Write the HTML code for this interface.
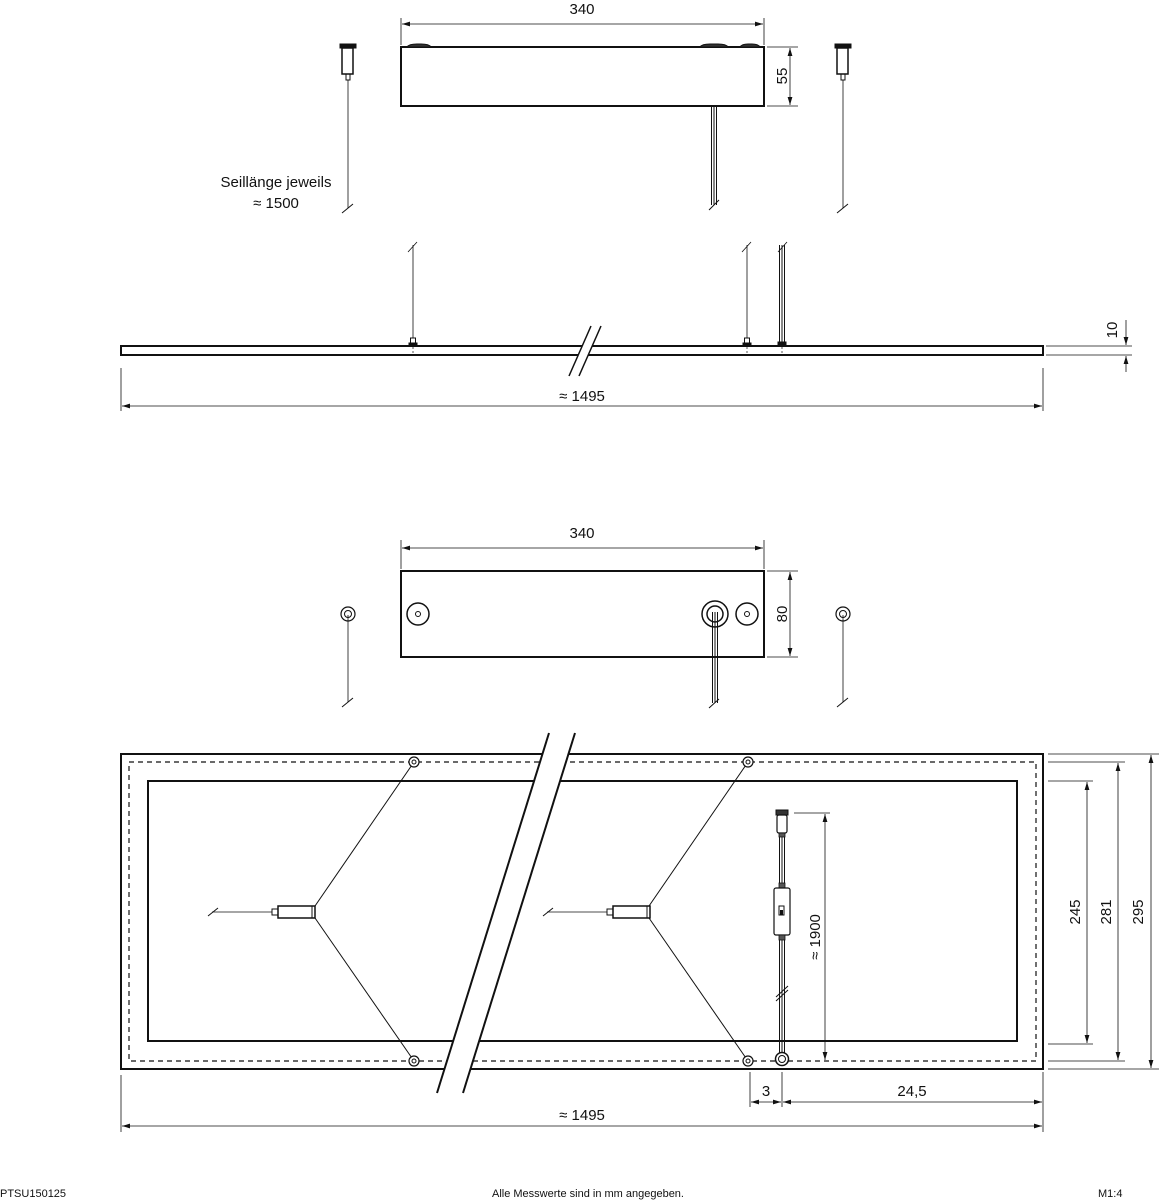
<!DOCTYPE html>
<html><head><meta charset="utf-8"><style>
html,body{margin:0;padding:0;background:#fff;}
svg{display:block;}
text{font-family:"Liberation Sans",Arial,sans-serif;fill:#111;}
</style></head><body>
<svg width="1159" height="1200" viewBox="0 0 1159 1200" xmlns="http://www.w3.org/2000/svg">
<defs>
<marker id="a" viewBox="0 0 10 10" refX="10" refY="5" markerWidth="8" markerHeight="8" orient="auto-start-reverse" markerUnits="userSpaceOnUse"><path d="M0,2 L10,5 L0,8 z" fill="#111"/></marker>
</defs>
<g stroke="#111" fill="none">
<!-- ===== TOP VIEW ===== -->
<rect x="401" y="47" width="363" height="59" stroke-width="2"/>
<path d="M407,47 q2,-3 10,-3 h4 q8,0 10,3 z M700,47 q2,-3 10,-3 h8 q8,0 10,3 z M740,47 q2,-3 8,-3 h4 q6,0 8,3 z" fill="#333" stroke-width="1"/>
<line x1="401" y1="18" x2="401" y2="45" stroke-width="0.8"/>
<line x1="764" y1="18" x2="764" y2="45" stroke-width="0.8"/>
<line x1="402" y1="24" x2="763" y2="24" stroke-width="0.8" marker-start="url(#a)" marker-end="url(#a)"/>
<line x1="767" y1="47" x2="798" y2="47" stroke-width="0.8"/>
<line x1="767" y1="106" x2="798" y2="106" stroke-width="0.8"/>
<line x1="790" y1="48" x2="790" y2="105" stroke-width="0.8" marker-start="url(#a)" marker-end="url(#a)"/>
<!-- cable -->
<g stroke-width="1"><line x1="711.5" y1="107" x2="711.5" y2="205"/><line x1="714" y1="107" x2="714" y2="205"/><line x1="716.5" y1="107" x2="716.5" y2="205"/></g>
<line x1="709" y1="210" x2="719" y2="200" stroke-width="1"/>
<!-- hangers -->
<g id="hg">
<rect x="340" y="44" width="16" height="4" fill="#111" stroke-width="1"/>
<rect x="342" y="48" width="11" height="26" stroke-width="1.5"/>
<rect x="346" y="74" width="4" height="6" stroke-width="1"/>
<line x1="348" y1="80" x2="348" y2="208" stroke-width="0.8"/>
<line x1="342" y1="213" x2="353" y2="204" stroke-width="1"/>
</g>
<use href="#hg" transform="translate(495,0)"/>
<!-- ===== SIDE VIEW ===== -->
<rect x="121" y="346" width="922" height="9" stroke-width="2"/>
<polygon points="591,326 601,326 579,376 569,376" fill="#fff" stroke="none"/>
<line x1="591" y1="326" x2="569" y2="376" stroke-width="1.5"/>
<line x1="601" y1="326" x2="579" y2="376" stroke-width="1.5"/>
<g stroke-width="0.8">
<line x1="413" y1="245" x2="413" y2="338"/><line x1="408" y1="252" x2="417" y2="242"/>
<line x1="747" y1="245" x2="747" y2="338"/><line x1="742" y1="252" x2="751" y2="242"/>
<line x1="778" y1="252" x2="787" y2="242"/>
</g>
<g stroke-width="1"><line x1="779.5" y1="245" x2="779.5" y2="344"/><line x1="782" y1="245" x2="782" y2="344"/><line x1="784.5" y1="245" x2="784.5" y2="344"/></g>
<rect x="410.5" y="338" width="5" height="5" stroke-width="1"/><rect x="409" y="343" width="8" height="3" fill="#111"/>
<rect x="744.5" y="338" width="5" height="5" stroke-width="1"/><rect x="743" y="343" width="8" height="3" fill="#111"/>
<rect x="778" y="342" width="8" height="4" fill="#111"/>
<g stroke-width="0.7" stroke-dasharray="2,2"><line x1="413" y1="347" x2="413" y2="355"/><line x1="747" y1="347" x2="747" y2="355"/><line x1="782" y1="347" x2="782" y2="355"/></g>
<line x1="1046" y1="346" x2="1132" y2="346" stroke-width="0.8"/>
<line x1="1046" y1="355" x2="1132" y2="355" stroke-width="0.8"/>
<line x1="1126" y1="320" x2="1126" y2="345" stroke-width="0.8" marker-end="url(#a)"/>
<line x1="1126" y1="372" x2="1126" y2="356" stroke-width="0.8" marker-end="url(#a)"/>
<line x1="121" y1="368" x2="121" y2="411" stroke-width="0.8"/>
<line x1="1043" y1="368" x2="1043" y2="411" stroke-width="0.8"/>
<line x1="122" y1="406" x2="1042" y2="406" stroke-width="0.8" marker-start="url(#a)" marker-end="url(#a)"/>
<!-- ===== MIDDLE TOP VIEW ===== -->
<rect x="401" y="571" width="363" height="86" stroke-width="2"/>
<circle cx="418" cy="614" r="11" stroke-width="1.5"/><circle cx="418" cy="614" r="2.5" stroke-width="1"/>
<circle cx="747" cy="614" r="11" stroke-width="1.5"/><circle cx="747" cy="614" r="2.5" stroke-width="1"/>
<circle cx="715" cy="614" r="13" stroke-width="1.5"/><circle cx="715" cy="614" r="8" stroke-width="1.5"/>
<g stroke-width="1"><line x1="712.5" y1="612" x2="712.5" y2="703"/><line x1="715" y1="612" x2="715" y2="703"/><line x1="717.5" y1="612" x2="717.5" y2="703"/></g>
<line x1="709" y1="708" x2="719" y2="699" stroke-width="1"/>
<line x1="401" y1="540" x2="401" y2="569" stroke-width="0.8"/>
<line x1="764" y1="540" x2="764" y2="569" stroke-width="0.8"/>
<line x1="402" y1="548" x2="763" y2="548" stroke-width="0.8" marker-start="url(#a)" marker-end="url(#a)"/>
<line x1="767" y1="571" x2="798" y2="571" stroke-width="0.8"/>
<line x1="767" y1="657" x2="798" y2="657" stroke-width="0.8"/>
<line x1="790" y1="572" x2="790" y2="656" stroke-width="0.8" marker-start="url(#a)" marker-end="url(#a)"/>
<g id="hc">
<circle cx="348" cy="614" r="7" stroke-width="1.2"/><circle cx="348" cy="614" r="3.5" stroke-width="1"/>
<line x1="348" y1="615" x2="348" y2="702" stroke-width="0.8"/>
<line x1="342" y1="707" x2="353" y2="698" stroke-width="1"/>
</g>
<use href="#hc" transform="translate(495,0)"/>
<!-- ===== BOTTOM VIEW ===== -->
<rect x="121" y="754" width="922" height="315" stroke-width="2"/>
<rect x="129" y="762" width="907" height="299" stroke-width="1.2" stroke-dasharray="5,4"/>
<rect x="148" y="781" width="869" height="260" stroke-width="2"/>
<g stroke-width="1">
<line x1="414" y1="762" x2="315" y2="906"/><line x1="315" y1="918" x2="414" y2="1061"/>
<line x1="748" y1="762" x2="649" y2="906"/><line x1="649" y1="918" x2="748" y2="1061"/>
</g>
<g fill="#fff">
<circle cx="414" cy="762" r="5" stroke-width="1.2"/><circle cx="414" cy="762" r="2" stroke-width="1"/>
<circle cx="414" cy="1061" r="5" stroke-width="1.2"/><circle cx="414" cy="1061" r="2" stroke-width="1"/>
<circle cx="748" cy="762" r="5" stroke-width="1.2"/><circle cx="748" cy="762" r="2" stroke-width="1"/>
<circle cx="748" cy="1061" r="5" stroke-width="1.2"/><circle cx="748" cy="1061" r="2" stroke-width="1"/>
</g>
<g id="dv">
<rect x="278" y="906" width="37" height="12" stroke-width="1.5" fill="#fff"/>
<line x1="312" y1="906" x2="312" y2="918" stroke-width="1"/>
<rect x="272" y="909" width="6" height="6" stroke-width="1"/>
<line x1="212" y1="912" x2="272" y2="912" stroke-width="0.8"/>
<line x1="208" y1="916" x2="218" y2="908" stroke-width="1"/>
</g>
<use href="#dv" transform="translate(335,0)"/>
<!-- break band -->
<polygon points="549,733 575,733 463,1093 437,1093" fill="#fff" stroke="none"/>
<line x1="549" y1="733" x2="437" y2="1093" stroke-width="2"/>
<line x1="575" y1="733" x2="463" y2="1093" stroke-width="2"/>
<!-- cable with switch -->
<g stroke-width="1">
<line x1="779.5" y1="836" x2="779.5" y2="1058"/><line x1="782" y1="836" x2="782" y2="1058"/><line x1="784.5" y1="836" x2="784.5" y2="1058"/>
</g>
<rect x="776" y="810" width="12" height="5" fill="#333" stroke-width="1"/>
<rect x="777" y="815" width="10" height="18" rx="2" stroke-width="1.2" fill="#fff"/>
<rect x="779" y="833" width="6" height="4" fill="#555" stroke-width="0.8"/>
<rect x="779" y="883" width="6" height="5" fill="#555" stroke-width="0.8"/>
<rect x="774" y="888" width="16" height="47" rx="2" stroke-width="1.2" fill="#fff"/>
<rect x="779" y="906" width="5" height="9" stroke-width="1" fill="#fff"/><rect x="780" y="910" width="3" height="5" fill="#111" stroke="none"/>
<rect x="779" y="935" width="6" height="5" fill="#555" stroke-width="0.8"/>
<line x1="776" y1="997" x2="788" y2="986" stroke-width="1"/>
<line x1="776" y1="1001" x2="788" y2="990" stroke-width="1"/>
<circle cx="782" cy="1059" r="6.5" stroke-width="1.5" fill="#fff"/><circle cx="782" cy="1059" r="3.5" stroke-width="1"/>
<!-- 1900 dim -->
<line x1="794" y1="813" x2="830" y2="813" stroke-width="0.8"/>
<line x1="825" y1="814" x2="825" y2="1060" stroke-width="0.8" marker-start="url(#a)" marker-end="url(#a)"/>
<!-- right dims -->
<g stroke-width="0.8">
<line x1="1048" y1="754" x2="1160" y2="754"/><line x1="1048" y1="1069" x2="1160" y2="1069"/>
<line x1="1048" y1="762" x2="1125" y2="762"/><line x1="1048" y1="1061" x2="1125" y2="1061"/>
<line x1="1048" y1="781" x2="1093" y2="781"/><line x1="1048" y1="1044" x2="1093" y2="1044"/>
<line x1="1087" y1="782" x2="1087" y2="1043" marker-start="url(#a)" marker-end="url(#a)"/>
<line x1="1118" y1="763" x2="1118" y2="1060" marker-start="url(#a)" marker-end="url(#a)"/>
<line x1="1151" y1="755" x2="1151" y2="1068" marker-start="url(#a)" marker-end="url(#a)"/>
<!-- bottom dims -->
<line x1="750" y1="1072" x2="750" y2="1107"/><line x1="782" y1="1072" x2="782" y2="1107"/>
<line x1="1043" y1="1072" x2="1043" y2="1132"/><line x1="121" y1="1075" x2="121" y2="1132"/>
<line x1="751" y1="1102" x2="781" y2="1102" marker-start="url(#a)" marker-end="url(#a)"/>
<line x1="783" y1="1102" x2="1042" y2="1102" marker-start="url(#a)" marker-end="url(#a)"/>
<line x1="122" y1="1126" x2="1042" y2="1126" marker-start="url(#a)" marker-end="url(#a)"/>
</g>
</g>
<!-- text -->
<g font-size="15" text-anchor="middle">
<text x="582" y="14">340</text>
<text x="0" y="0" transform="translate(787,76) rotate(-90)">55</text>
<text x="276" y="187">Seillänge jeweils</text>
<text x="276" y="208">≈ 1500</text>
<text x="0" y="0" transform="translate(1117,330) rotate(-90)">10</text>
<text x="582" y="401">≈ 1495</text>
<text x="582" y="538">340</text>
<text x="0" y="0" transform="translate(787,614) rotate(-90)">80</text>
<text x="0" y="0" transform="translate(820,937) rotate(-90)">≈ 1900</text>
<text x="0" y="0" transform="translate(1080,912) rotate(-90)">245</text>
<text x="0" y="0" transform="translate(1111,912) rotate(-90)">281</text>
<text x="0" y="0" transform="translate(1143,912) rotate(-90)">295</text>
<text x="766" y="1096">3</text>
<text x="912" y="1096">24,5</text>
<text x="582" y="1120">≈ 1495</text>
</g>
<g font-size="11">
<text x="0" y="1197">PTSU150125</text>
<text x="588" y="1197" text-anchor="middle">Alle Messwerte sind in mm angegeben.</text>
<text x="1098" y="1197">M1:4</text>
</g>
</svg>
</body></html>
